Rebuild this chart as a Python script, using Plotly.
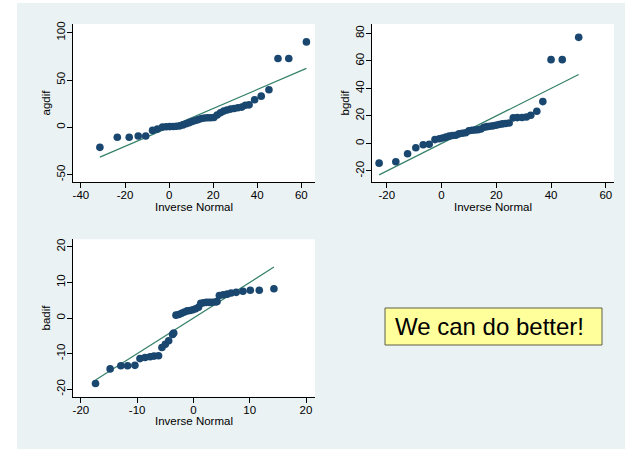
import plotly.graph_objects as go

# ---- data ----
ag_x = [-31.4, -23.5, -18.1, -14.0, -10.6, -7.5, -5.3, -3.0, -1.3, 0.3, 1.9, 3.4, 4.9, 6.3, 7.7,
        9.1, 10.5, 11.9, 13.3, 14.7, 16.1, 17.5, 18.9, 20.3, 21.8, 23.3, 24.8, 26.3, 27.9, 29.5,
        31.2, 33.0, 34.6, 36.3, 38.8, 41.8, 45.3, 49.4, 54.3, 62.3]
ag_y = [-21.1, -10.5, -10.5, -9.1, -9.1, -3.2, -1.8, 0.3, 0.6, 0.8, 1.0, 1.2, 1.6, 2.6, 3.8,
        5.0, 6.2, 7.2, 8.2, 9.3, 9.9, 10.1, 10.2, 10.4, 13.0, 15.5, 17.2, 18.4, 19.3, 20.0,
        20.7, 21.4, 23.3, 23.8, 29.2, 33.0, 39.7, 72.7, 72.7, 90.3]

bg_x = [-22.8, -16.7, -12.4, -9.4, -6.7, -4.5, -2.4, -0.8, 0.4, 1.6, 2.8, 4.0, 5.2, 6.4, 7.6,
        8.8, 10.0, 11.1, 12.2, 13.3, 14.4, 15.5, 16.6, 17.7, 18.8, 19.9, 21.0, 22.2, 23.4, 24.7,
        26.2, 27.7, 29.4, 31.0, 32.6, 34.8, 37.0, 40.0, 44.1, 50.1]
bg_y = [-14.3, -13.3, -7.5, -3.1, -0.9, -0.6, 2.8, 3.4, 4.0, 4.6, 5.3, 5.8, 6.0, 7.0, 7.4,
        7.8, 9.2, 9.6, 9.8, 10.0, 10.5, 11.8, 12.2, 12.5, 12.8, 13.2, 13.8, 14.2, 14.5, 14.9,
        18.6, 18.8, 18.9, 19.2, 20.5, 23.4, 30.4, 60.9, 60.9, 77.1]

ba_x = [-17.4, -14.8, -12.9, -11.7, -10.4, -9.5, -8.6, -7.7, -7.0, -6.2, -5.6, -5.0, -4.4, -3.7,
        -3.5, -3.1, -2.6, -2.1, -1.6, -1.1, -0.6, -0.1, 0.4, 0.9, 1.3, 1.8, 2.3, 2.8, 3.3, 3.9,
        4.2, 4.6, 5.3, 6.0, 6.7, 7.6, 8.8, 10.1, 11.7, 14.3]
ba_y = [-18.4, -14.3, -13.4, -13.4, -13.3, -11.4, -11.1, -10.9, -10.7, -10.6, -8.3, -7.4, -6.4,
        -4.6, -4.2, 0.8, 1.0, 1.3, 1.7, 2.0, 2.1, 2.3, 2.6, 3.0, 4.1, 4.3, 4.4, 4.4, 4.4, 4.5,
        4.6, 6.3, 6.5, 6.7, 7.0, 7.2, 7.5, 7.8, 7.8, 8.2]

ag_xticks = [-40, -20, 0, 20, 40, 60]
ag_yticks = [-50, 0, 50, 100]
bg_xticks = [-20, 0, 20, 40, 60]
bg_yticks = [-20, 0, 20, 40, 60, 80]
ba_xticks = [-20, -10, 0, 10, 20]
ba_yticks = [-20, -10, 0, 10, 20]

x_title = "Inverse Normal"
y_titles = ["agdif", "bgdif", "badif"]
note_text = "We can do better!"

# ---- styling ----
W, H = 625, 449
MARK = "#1a476f"
LINE = "#35806a"
BG = "#eaf2f3"
FONT = "Liberation Sans, Arial, sans-serif"
FS = 11.5

def px_x(p):
    return p / W

def px_y(p):
    return 1 - p / H

fig = go.Figure()

panels = [
    (ag_x, ag_y, "x", "y"),
    (bg_x, bg_y, "x2", "y2"),
    (ba_x, ba_y, "x3", "y3"),
]
for xs, ys, xa, ya in panels:
    lo, hi = min(xs), max(xs)
    fig.add_trace(go.Scatter(x=[lo, hi], y=[lo, hi], mode="lines",
                             line=dict(color=LINE, width=1.2), xaxis=xa, yaxis=ya,
                             showlegend=False, hoverinfo="skip"))
    fig.add_trace(go.Scatter(x=xs, y=ys, mode="markers",
                             marker=dict(color=MARK, size=7.6, line=dict(width=0)),
                             xaxis=xa, yaxis=ya, showlegend=False))

def common(dom, rng, ticks, anchor):
    return dict(domain=dom, range=rng, tickvals=ticks, ticktext=[str(t) for t in ticks],
                anchor=anchor, showline=True, linecolor="black", linewidth=1,
                ticks="outside", ticklen=5, tickcolor="black", showgrid=False,
                zeroline=False, tickfont=dict(size=FS, color="black"))

def xax(dom, rng, ticks, anchor):
    d = common(dom, rng, ticks, anchor)
    d.update(ticklabelstandoff=-3,
             title=dict(text=x_title, font=dict(size=FS, color="black"), standoff=1))
    return d

def yax(dom, rng, ticks, anchor, title):
    d = common(dom, rng, ticks, anchor)
    d.update(tickangle=-90, ticklabelstandoff=-3,
             title=dict(text=title, font=dict(size=FS, color="black"), standoff=2))
    return d

top = [px_y(182), px_y(24)]
bot = [px_y(396.7), px_y(239.3)]
left = [px_x(73), px_x(315)]
right = [px_x(372), px_x(614)]

fig.update_layout(
    width=W, height=H, margin=dict(l=0, r=0, t=0, b=0, autoexpand=False),
    paper_bgcolor=BG, plot_bgcolor="white",
    font=dict(family=FONT, size=FS, color="black"),
    xaxis=xax(left, [-43.6, 66.2], ag_xticks, "y"),
    yaxis=yax(top, [-57.7, 109.2], ag_yticks, "x", y_titles[0]),
    xaxis2=xax(right, [-25.4, 63.0], bg_xticks, "y2"),
    yaxis2=yax(top, [-28.0, 86.8], bg_yticks, "x2", y_titles[1]),
    xaxis3=xax(left, [-21.4, 21.6], ba_xticks, "y3"),
    yaxis3=yax(bot, [-22.1, 22.1], ba_yticks, "x3", y_titles[2]),
    shapes=[
        dict(type="rect", xref="paper", yref="paper", x0=0, x1=px_x(17), y0=0, y1=1,
             fillcolor="white", line=dict(width=0), layer="below"),
        dict(type="rect", xref="paper", yref="paper", x0=0, x1=1, y0=px_y(3), y1=1,
             fillcolor="white", line=dict(width=0), layer="below"),
        dict(type="rect", xref="paper", yref="paper", x0=px_x(385), x1=px_x(602),
             y0=px_y(345), y1=px_y(308), fillcolor="#ffff9c",
             line=dict(color="#5f5f48", width=1), layer="above"),
    ],
    annotations=[
        dict(text=note_text, xref="paper", yref="paper", x=px_x(393), y=px_y(326.5),
             xanchor="left", yanchor="middle", showarrow=False,
             font=dict(size=24, color="black", family=FONT)),
    ],
)

fig.write_html("out.html")
